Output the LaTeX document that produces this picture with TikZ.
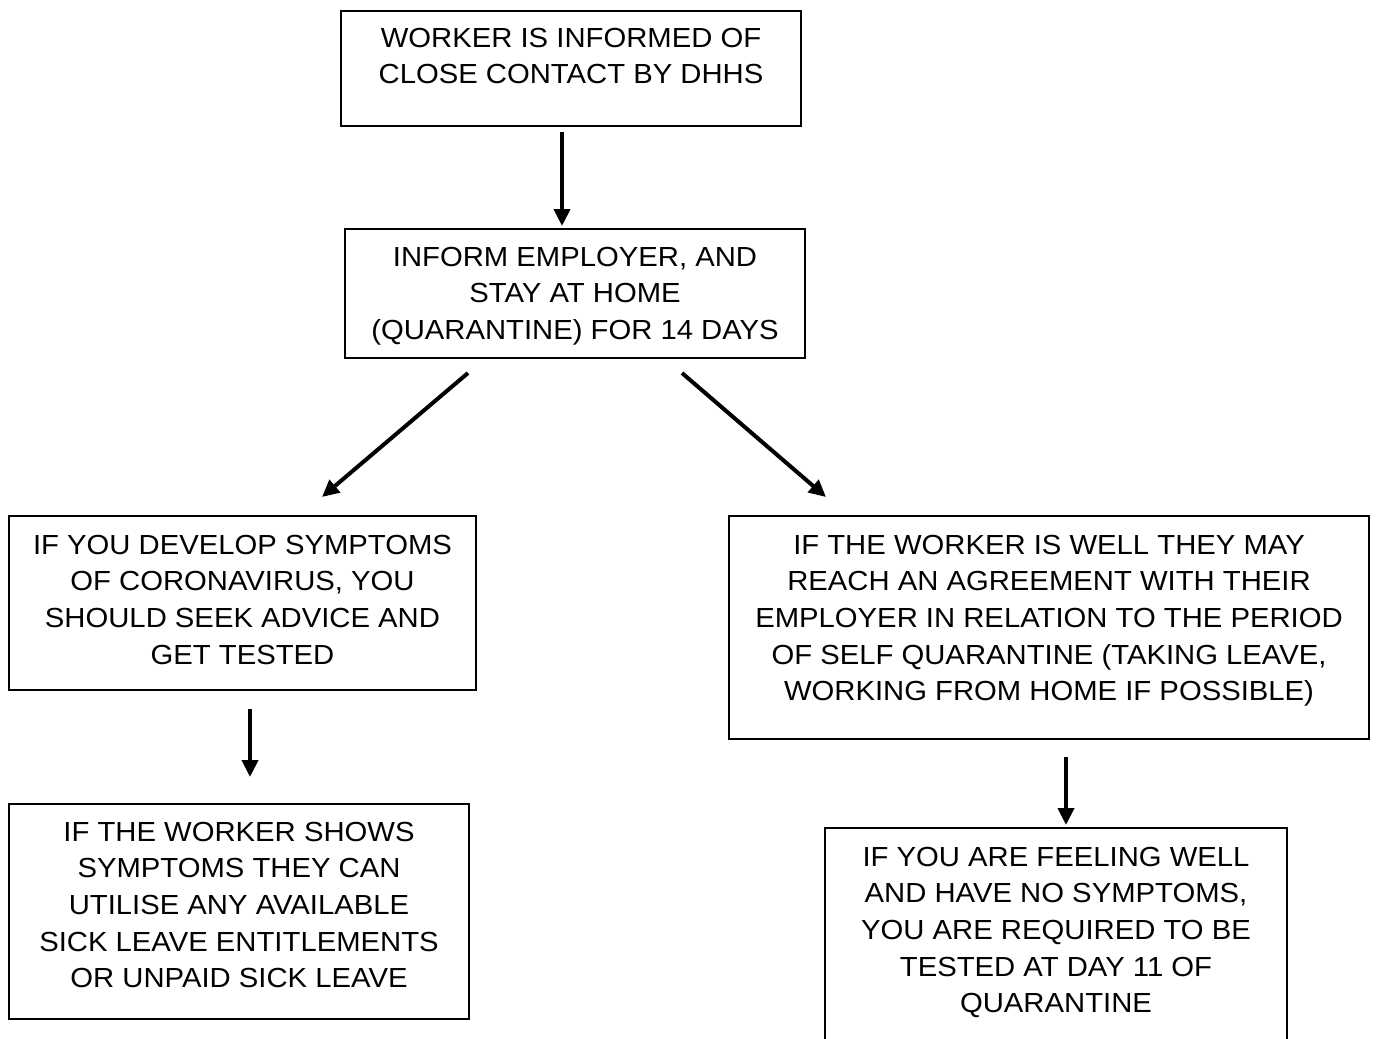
\documentclass[tikz,border=0pt]{standalone}
\usepackage{fontspec}
\setmainfont{Liberation Sans}[FakeStretch=1.06]
\usetikzlibrary{arrows.meta,calc}
\tikzset{%
  flowbox/.style  = {shape=rectangle, draw, line width=0.75pt,%
                     inner sep=0pt, outer sep=0pt},%
  flowtext/.style = {align=center, inner sep=0pt, anchor=north,%
                     font=\fontsize{13.8}{18.3}\selectfont},%
  flowarrow/.style = {line width=2pt,%
                      -{Triangle[length=8.5pt,width=8pt]}}%
}
\begin{document}
\begin{tikzpicture}[x=0.5pt,y=-0.5pt]%
	\useasboundingbox (0,0) rectangle (1383,1039);
	% boxes
	\node [flowbox, minimum width=230pt, minimum height=57.5pt] (contact) at (571,68.5) {};%
	\node [flowbox, minimum width=230pt, minimum height=64.5pt] (inform) at (575,293.5) {};%
	\node [flowbox, minimum width=233.5pt, minimum height=87pt] (sick) at (242.5,603) {};%
	\node [flowbox, minimum width=320pt, minimum height=111.5pt] (well) at (1049,627.5) {};%
	\node [flowbox, minimum width=230pt, minimum height=107.5pt] (leave) at (239,911.5) {};%
	\node [flowbox, minimum width=231pt, minimum height=115pt] (tested) at (1056,943) {};%
	% texts
	\node [flowtext] (contacttxt) at ([yshift=-8.35pt]contact.north) {WORKER IS INFORMED OF\\CLOSE CONTACT BY DHHS};%
	\node [flowtext] (informtxt) at ([yshift=-8.85pt]inform.north) {INFORM EMPLOYER, AND\\STAY AT HOME\\(QUARANTINE) FOR 14 DAYS};%
	\node [flowtext] (sicktxt) at ([yshift=-9.35pt]sick.north) {IF YOU DEVELOP SYMPTOMS\\OF CORONAVIRUS, YOU\\SHOULD SEEK ADVICE AND\\GET TESTED};%
	\node [flowtext] (welltxt) at ([yshift=-9.35pt]well.north) {IF THE WORKER IS WELL THEY MAY\\REACH AN AGREEMENT WITH THEIR\\EMPLOYER IN RELATION TO THE PERIOD\\OF SELF QUARANTINE (TAKING LEAVE,\\WORKING FROM HOME IF POSSIBLE)};%
	\node [flowtext] (leavetxt) at ([yshift=-8.85pt]leave.north) {IF THE WORKER SHOWS\\SYMPTOMS THEY CAN\\UTILISE ANY AVAILABLE\\SICK LEAVE ENTITLEMENTS\\OR UNPAID SICK LEAVE};%
	\node [flowtext] (testedtxt) at ([yshift=-9.35pt]tested.north) {IF YOU ARE FEELING WELL\\AND HAVE NO SYMPTOMS,\\YOU ARE REQUIRED TO BE\\TESTED AT DAY 11 OF\\QUARANTINE};%
	% arrow ends
	\coordinate (c1) at (562,132);  \coordinate (c2) at (562,226);%
	\coordinate (c3) at (468,373);  \coordinate (c4) at (322,497);%
	\coordinate (c5) at (682,373);  \coordinate (c6) at (826,497);%
	\coordinate (c7) at (250,709);  \coordinate (c8) at (250,777);%
	\coordinate (c9) at (1066,757); \coordinate (c10) at (1066,825);%
	\draw [flowarrow] (c1) -- (c2);%
	\draw [flowarrow] (c3) -- (c4);%
	\draw [flowarrow] (c5) -- (c6);%
	\draw [flowarrow] (c7) -- (c8);%
	\draw [flowarrow] (c9) -- (c10);%
\end{tikzpicture}
\end{document}
